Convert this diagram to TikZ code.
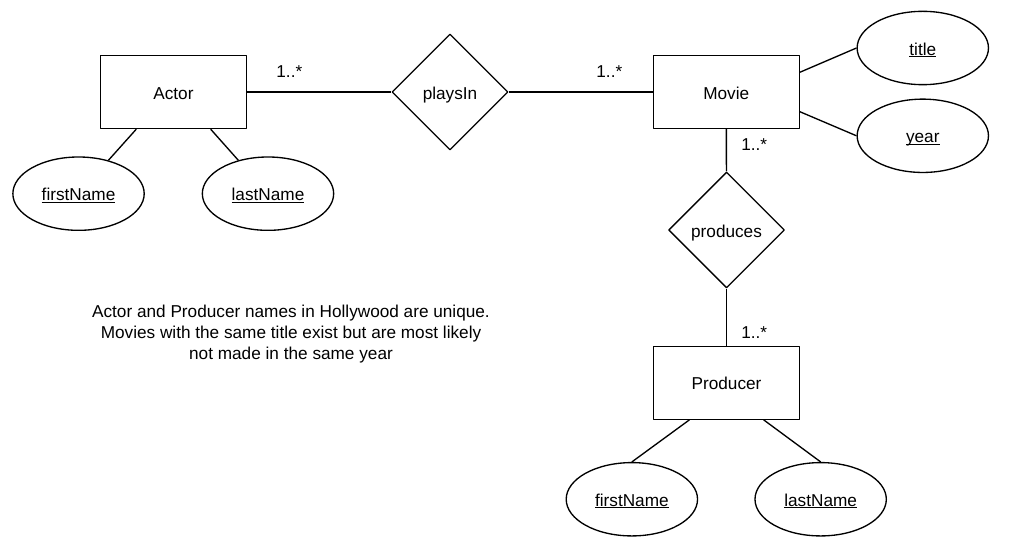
\documentclass[tikz,border=0pt]{standalone}
\usepackage{fontspec}
\setmainfont{Liberation Sans}
\usepackage{tikz}
\usetikzlibrary{shapes.geometric, positioning}
\usepackage{xcolor}
\newcommand{\keyname}[1]{\setbox0=\hbox{#1}\rlap{\rule[-1.6pt]{\wd0}{0.9pt}}\box0}
\tikzset{entitynode/.style={rectangle, draw=black, line width=1pt, minimum width=109.5pt, minimum height=54.75pt, inner sep=0pt, text height=10.6pt, text depth=0pt},
relationnode/.style={diamond, draw=black, line width=1pt, minimum width=87pt, minimum height=87pt, inner sep=0pt, text height=10.6pt, text depth=0pt},
attrnode/.style={ellipse, draw=black, line width=1pt, minimum width=98.5pt, minimum height=55pt, inner sep=0pt, text height=10.6pt, text depth=0pt}}
\begin{document}
\begin{tikzpicture}[
        line join=bevel,
        every node/.style={font=\fontsize{12.9pt}{15.75pt}\selectfont},
        connector/.style={draw=black, line width=1pt}
    ]
        % Canvas
        \fill[white] (0pt, 0pt) rectangle (757.5pt, 414.75pt);
        \useasboundingbox (0pt, 0pt) rectangle (757.5pt, 414.75pt);
        % Entities
        \node[entitynode] (actor) at (130.1pt, 345.75pt) {Actor};
        \node[entitynode] (movie) at (544.7pt, 345.75pt) {Movie};
        \node[entitynode] (producer) at (544.9pt, 127.7pt) {Producer};
        % Relations
        \node[relationnode] (playsin) at (337.5pt, 345.75pt) {playsIn};
        \node[relationnode] (produces) at (544.9pt, 242.25pt) {produces};
        % Attributes
        \node[attrnode] (actorfirst) at (58.9pt, 269.5pt) {\keyname{firstName}};
        \node[attrnode] (actorlast) at (201pt, 269.5pt) {\keyname{lastName}};
        \node[attrnode] (movietitle) at (692.1pt, 378.75pt) {\keyname{title}};
        \node[attrnode] (movieyear) at (692.1pt, 312.9pt) {\keyname{year}};
        \node[attrnode] (producerfirst) at (473.9pt, 40.3pt) {\keyname{firstName}};
        \node[attrnode] (producerlast) at (615.5pt, 40.3pt) {\keyname{lastName}};
        % Lines
        \draw[connector] (actor) -- (playsin);
        \draw[connector] (playsin) -- (movie);
        \draw[connector] (movie) -- (produces);
        \draw[connector] (produces) -- (producer);
        \draw[connector] (actor.-135) -- (actorfirst);
        \draw[connector] (actor.-45) -- (actorlast);
        \draw[connector] (movie.15) -- (movietitle.west);
        \draw[connector] (movie.-15) -- (movieyear.west);
        \draw[connector] (producer.-135) -- (producerfirst.north);
        \draw[connector] (producer.-45) -- (producerlast.north);
        % Cardinalities
        \foreach \x/\y/\name in {
            217pt/361pt/cardactor,
            457pt/361pt/cardmovie,
            565.7pt/306.5pt/cardmovieprod,
            565.7pt/165.2pt/cardproducer} {
            \node (\name) at (\x, \y) {1..*};
        }
        % Note
        \node[align=center] (note) at (218.25pt, 164.5pt) {Actor and Producer names in Hollywood are unique.\\Movies with the same title exist but are most likely\\not made in the same year};
    \end{tikzpicture}
\end{document}
